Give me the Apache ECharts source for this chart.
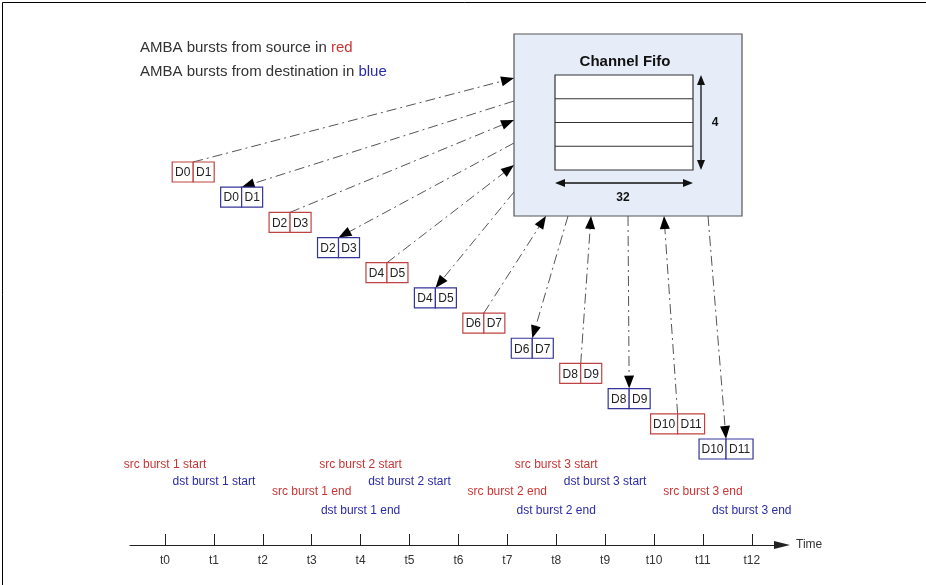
<!DOCTYPE html>
<html>
<head>
<meta charset="utf-8">
<title>Channel Fifo - AMBA bursts</title>
<script src="https://cdn.jsdelivr.net/npm/echarts@6/dist/echarts.min.js"></script>
<style>
html, body { margin: 0; padding: 0; background: #fff; }
#chart { width: 926px; height: 585px; }
</style>
</head>
<body>
<div id="chart"></div>
<script>
// bursts, in the order they go through the fifo
var burstSide = ['src', 'dst', 'src', 'dst', 'src', 'dst', 'src', 'dst', 'src', 'dst', 'src', 'dst']
var burstFirstWord = [0, 0, 2, 2, 4, 4, 6, 6, 8, 8, 10, 10]

// time axis
var timeTicks = [0, 1, 2, 3, 4, 5, 6, 7, 8, 9, 10, 11, 12]
var eventNames = [
  'src burst 1 start', 'dst burst 1 start', 'src burst 1 end', 'dst burst 1 end',
  'src burst 2 start', 'dst burst 2 start', 'src burst 2 end', 'dst burst 2 end',
  'src burst 3 start', 'dst burst 3 start', 'src burst 3 end', 'dst burst 3 end'
]
var eventTimes = [0, 1, 3, 4, 4, 5, 7, 8, 8, 9, 11, 12]

// fifo size
var fifoDepth = 4
var fifoWidth = 32

// ---- layout / styles ----
var FONT = '"Liberation Sans", Arial, Helvetica, sans-serif'
var TXT_RED = '#c93535'
var TXT_BLUE = '#2b2ba8'
var BOX_RED = '#c04343'
var BOX_BLUE = '#34349a'
var INK = '#333'
var T0 = 165
var TSTEP = 48.9
var fifo = { x: 514, y: 34, w: 228, h: 182, ix: 555, iy: 75, iw: 138, ih: 95 }
// where each burst arrow meets the fifo box (canvas px)
var ports = [[514, 78], [514, 101], [514, 120], [514, 143], [514, 165], [514, 192],
  [546, 216], [568, 216], [591, 216], [628, 216], [664, 216], [708, 216]]
var eventRow = { 'src start': 465, 'dst start': 482, 'src end': 492, 'dst end': 511 }

function arrowHead(tip, from, len, half, color) {
  var dx = tip[0] - from[0]
  var dy = tip[1] - from[1]
  var d = Math.sqrt(dx * dx + dy * dy)
  var ux = dx / d
  var uy = dy / d
  var bx = tip[0] - ux * len
  var by = tip[1] - uy * len
  return {
    type: 'polygon',
    shape: { points: [[tip[0], tip[1]], [bx - uy * half, by + ux * half], [bx + uy * half, by - ux * half]] },
    style: { fill: color }
  }
}

function renderFifo(params, api) {
  var depth = api.value(0)
  var width = api.value(1)
  var o = api.coord([fifo.x, fifo.y])
  var ins = api.coord([fifo.ix, fifo.iy])
  var kids = [
    { type: 'rect', shape: { x: o[0], y: o[1], width: fifo.w, height: fifo.h },
      style: { fill: '#e6edf8', stroke: '#555', lineWidth: 1.2 } },
    { type: 'text', x: o[0] + fifo.w / 2 - 3, y: o[1] + 28,
      style: { text: 'Channel Fifo', font: 'bold 15px ' + FONT, fill: '#111', align: 'center', verticalAlign: 'middle' } },
    { type: 'rect', shape: { x: ins[0], y: ins[1], width: fifo.iw, height: fifo.ih },
      style: { fill: '#fff', stroke: '#333', lineWidth: 1.2 } }
  ]
  for (var k = 1; k < depth; k++) {
    var ry = ins[1] + fifo.ih * k / depth
    kids.push({ type: 'line', shape: { x1: ins[0], y1: ry, x2: ins[0] + fifo.iw, y2: ry },
      style: { stroke: '#333', lineWidth: 1.2 } })
  }
  // depth arrow
  var vx = ins[0] + fifo.iw + 8
  kids.push({ type: 'line', shape: { x1: vx, y1: ins[1] + 6, x2: vx, y2: ins[1] + fifo.ih - 6 }, style: { stroke: '#111', lineWidth: 1.3 } })
  kids.push(arrowHead([vx, ins[1]], [vx, ins[1] + 10], 10, 4, '#111'))
  kids.push(arrowHead([vx, ins[1] + fifo.ih], [vx, ins[1] + fifo.ih - 10], 10, 4, '#111'))
  kids.push({ type: 'text', x: vx + 14, y: ins[1] + fifo.ih / 2,
    style: { text: String(depth), font: 'bold 12px ' + FONT, fill: '#111', align: 'center', verticalAlign: 'middle' } })
  // width arrow
  var hy = ins[1] + fifo.ih + 13
  kids.push({ type: 'line', shape: { x1: ins[0] + 6, y1: hy, x2: ins[0] + fifo.iw - 6, y2: hy }, style: { stroke: '#111', lineWidth: 1.3 } })
  kids.push(arrowHead([ins[0], hy], [ins[0] + 10, hy], 10, 4, '#111'))
  kids.push(arrowHead([ins[0] + fifo.iw, hy], [ins[0] + fifo.iw - 10, hy], 10, 4, '#111'))
  kids.push({ type: 'text', x: ins[0] + fifo.iw / 2 - 1, y: hy + 15,
    style: { text: String(width), font: 'bold 12px ' + FONT, fill: '#111', align: 'center', verticalAlign: 'middle' } })
  return { type: 'group', children: kids }
}

function renderBurst(params, api) {
  var i = api.value(0)
  var p = api.coord([api.value(0), api.value(1)])
  var first = burstFirstWord[i]
  var words = ['D' + first, 'D' + (first + 1)]
  var isSrc = burstSide[i] === 'src'
  var color = isSrc ? BOX_RED : BOX_BLUE
  var cw = words[0].length > 2 ? 27 : 21
  var ch = 20
  var port = ports[i]
  var boxPt = [p[0], p[1]]
  var tip = isSrc ? port : boxPt
  var from = isSrc ? boxPt : port
  var dx = tip[0] - from[0]
  var dy = tip[1] - from[1]
  var d = Math.sqrt(dx * dx + dy * dy)
  var end = [tip[0] - dx / d * 11, tip[1] - dy / d * 11]
  var kids = [
    { type: 'line', shape: { x1: from[0], y1: from[1], x2: end[0], y2: end[1] },
      style: { stroke: '#555', lineWidth: 1, lineDash: [10, 4, 2, 4] } },
    arrowHead(tip, from, 13, 5, '#000'),
    { type: 'rect', shape: { x: p[0] - cw, y: p[1], width: cw, height: ch },
      style: { fill: '#fff', stroke: color, lineWidth: 1.2 } },
    { type: 'rect', shape: { x: p[0], y: p[1], width: cw, height: ch },
      style: { fill: '#fff', stroke: color, lineWidth: 1.2 } },
    { type: 'text', x: p[0] - cw / 2, y: p[1] + ch / 2 + 1,
      style: { text: words[0], font: '12px ' + FONT, fill: '#222', align: 'center', verticalAlign: 'middle' } },
    { type: 'text', x: p[0] + cw / 2, y: p[1] + ch / 2 + 1,
      style: { text: words[1], font: '12px ' + FONT, fill: '#222', align: 'center', verticalAlign: 'middle' } }
  ]
  return { type: 'group', children: kids }
}

function renderEvent(params, api) {
  var name = eventNames[params.dataIndex]
  var parts = name.split(' ')
  var row = eventRow[parts[0] + ' ' + parts[3]]
  var p = api.coord([api.value(0), row])
  return {
    type: 'text', x: p[0], y: p[1],
    style: { text: name, font: '12px ' + FONT, fill: parts[0] === 'src' ? TXT_RED : TXT_BLUE,
      align: 'center', verticalAlign: 'middle' }
  }
}

var chart = echarts.init(document.getElementById('chart'), null, { renderer: 'canvas' })
var option = {
  backgroundColor: '#fff',
  animation: false,
  title: {
    left: 140,
    top: 36,
    padding: 0,
    text: '{k|AMBA bursts from source in }{r|red}\n{k|AMBA bursts from destination in }{b|blue}',
    textStyle: {
      fontWeight: 'normal',
      rich: {
        k: { fontFamily: FONT, fontSize: 15, fontWeight: 'normal', color: INK, lineHeight: 24 },
        r: { fontFamily: FONT, fontSize: 15, fontWeight: 'normal', color: TXT_RED, lineHeight: 24 },
        b: { fontFamily: FONT, fontSize: 15, fontWeight: 'normal', color: TXT_BLUE, lineHeight: 24 }
      }
    }
  },
  graphic: [{
    type: 'rect', x: 0, y: 0, z: 100, silent: true,
    shape: { x: 2.5, y: 2.5, width: 1000, height: 1000 },
    style: { fill: 'none', stroke: '#000', lineWidth: 1 }
  }],
  grid: [
    { left: 0, top: 0, width: 926, height: 585 },
    { left: 193.2, top: 162, width: 48.44 * 11, height: 25.18 * 11 },
    { left: 130, top: 450, width: 652, height: 95 }
  ],
  xAxis: [
    { gridIndex: 0, type: 'value', min: 0, max: 926, show: false },
    { gridIndex: 1, type: 'value', min: 0, max: 11, show: false },
    {
      gridIndex: 2, type: 'value',
      min: (130 - T0) / TSTEP, max: (782 - T0) / TSTEP,
      position: 'bottom',
      name: 'Time', nameLocation: 'end', nameGap: 14,
      nameTextStyle: { color: INK, fontSize: 12, fontFamily: FONT },
      axisLine: { show: true, onZero: false, symbol: ['none', 'triangle'], symbolSize: [8, 16],
        lineStyle: { color: '#222', width: 1 } },
      axisTick: { show: true, inside: true, length: 11, customValues: timeTicks, lineStyle: { color: '#222', width: 1 } },
      axisLabel: { customValues: timeTicks, margin: 10, color: INK, fontSize: 12, fontFamily: FONT,
        formatter: function (v) { return 't' + v } },
      splitLine: { show: false }
    }
  ],
  yAxis: [
    { gridIndex: 0, type: 'value', min: 0, max: 585, inverse: true, show: false },
    { gridIndex: 1, type: 'value', min: 0, max: 11, inverse: true, show: false },
    { gridIndex: 2, type: 'value', min: 450, max: 545, inverse: true, show: false }
  ],
  series: [
    {
      type: 'custom', name: 'fifo', xAxisIndex: 0, yAxisIndex: 0, clip: false, silent: true,
      data: [[fifoDepth, fifoWidth]],
      renderItem: renderFifo
    },
    {
      type: 'custom', name: 'bursts', xAxisIndex: 1, yAxisIndex: 1, clip: false, silent: true, z: 3,
      data: burstSide.map(function (s, i) { return [i, i] }),
      renderItem: renderBurst
    },
    {
      type: 'custom', name: 'events', xAxisIndex: 2, yAxisIndex: 2, clip: false, silent: true,
      data: eventTimes.map(function (t) { return [t, 0] }),
      renderItem: renderEvent
    }
  ]
}
chart.setOption(option)
</script>
</body>
</html>
